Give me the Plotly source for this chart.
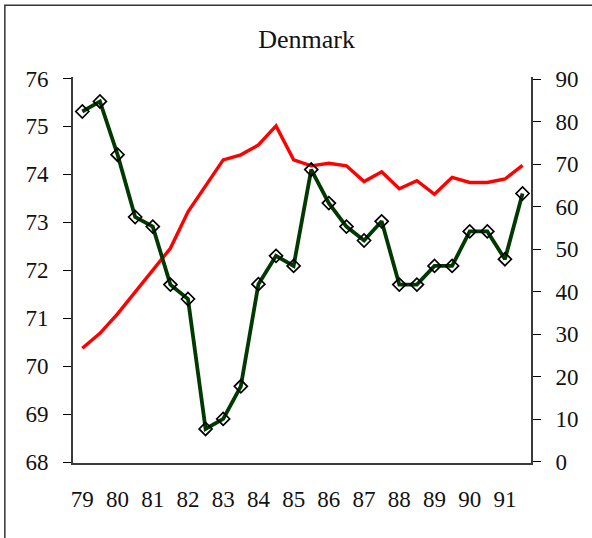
import plotly.graph_objects as go

# ---- data ----
years = [79 + 0.5 * i for i in range(26)]
green_vals = [75.31, 75.52, 74.41, 73.11, 72.91, 71.70, 71.40, 68.69, 68.90, 69.58,
              71.71, 72.30, 72.09, 74.10, 73.40, 72.91, 72.62, 73.02, 71.70, 71.70,
              72.09, 72.09, 72.81, 72.81, 72.23, 73.60]
red_vals = [26.7, 30.2, 34.8, 40.0, 45.0, 50.2, 58.8, 64.9, 71.0, 72.2,
            74.5, 79.0, 71.0, 69.6, 70.2, 69.6, 65.9, 68.2, 64.2, 66.1,
            62.9, 66.9, 65.7, 65.7, 66.5, 69.7]
x_labels = ["79", "80", "81", "82", "83", "84", "85", "86", "87", "88", "89", "90", "91"]
x_label_vals = [79, 80, 81, 82, 83, 84, 85, 86, 87, 88, 89, 90, 91]
x_tick_vals = [78.75, 80.75, 82.75, 84.75, 86.75, 88.75, 90.75]
left_ticks = [68, 69, 70, 71, 72, 73, 74, 75, 76]
right_ticks = [0, 10, 20, 30, 40, 50, 60, 70, 80, 90]

x_range = [78.735, 91.74]
left_range = [67.98, 76.03]
right_range = [-0.3, 90.5]

FONT = "Liberation Serif"
AX = "#3a3a3a"

fig = go.Figure()
fig.add_trace(go.Scatter(x=years, y=red_vals, mode="lines", xaxis="x", yaxis="y",
                         line=dict(color="#ff0000", width=3.4), showlegend=False))
fig.add_trace(go.Scatter(x=years, y=green_vals, mode="lines+markers", xaxis="x", yaxis="y2",
                         line=dict(color="#003a00", width=3.8),
                         marker=dict(symbol="diamond-open", size=10, color="black",
                                     line=dict(width=1.7, color="black")),
                         showlegend=False))

W, H = 592, 538
ml, mr, mt, mb = 72.7, 61, 77.3, 74.7
pw, ph = W - ml - mr, H - mt - mb

tickfont = dict(family=FONT, size=23, color="#111")

fig.update_layout(
    width=W, height=H,
    margin=dict(l=ml, r=mr, t=mt, b=mb, pad=0),
    paper_bgcolor="white", plot_bgcolor="white",
    title=dict(text="Denmark", font=dict(family=FONT, size=26, color="#111"),
               x=302 / W, xanchor="center", y=1 - 39 / H, yanchor="middle",
               xref="paper", yref="container"),
    xaxis=dict(range=x_range, tickmode="array", tickvals=x_label_vals, ticktext=x_labels,
               ticks="", showgrid=False, zeroline=False, showline=True, linecolor=AX,
               linewidth=1.6, tickfont=tickfont, ticklabelstandoff=15, anchor="y"),
    xaxis2=dict(range=x_range, overlaying="x", anchor="y", side="bottom",
                tickmode="array", tickvals=x_tick_vals, ticks="outside", ticklen=8,
                tickwidth=1, tickcolor="black", showticklabels=False, showgrid=False,
                zeroline=False, showline=False),
    xaxis3=dict(range=x_range, overlaying="x", anchor="y", side="bottom",
                tickmode="array", tickvals=x_tick_vals, ticks="inside", ticklen=7,
                tickwidth=1, tickcolor="black", showticklabels=False, showgrid=False,
                zeroline=False, showline=False),
    xaxis4=dict(range=x_range, overlaying="x", anchor="y", side="top",
                ticks="", showticklabels=False, showgrid=False, zeroline=False,
                showline=True, linecolor="#8a8a8a", linewidth=1.5),
    # right axis (red)
    yaxis=dict(range=right_range, side="right", tickmode="array", tickvals=right_ticks,
               ticks="outside", ticklen=8, tickwidth=1, tickcolor="black",
               showgrid=False, zeroline=False, showline=True, linecolor=AX, linewidth=1.6,
               tickfont=tickfont, ticklabelstandoff=10, anchor="x"),
    yaxis4=dict(range=right_range, side="right", overlaying="y", anchor="x",
                tickmode="array", tickvals=right_ticks, ticks="inside", ticklen=7,
                tickwidth=1, tickcolor="black", showticklabels=False, showgrid=False,
                zeroline=False, showline=False),
    # left axis (green)
    yaxis2=dict(range=left_range, side="left", overlaying="y", anchor="x",
                tickmode="array", tickvals=left_ticks, ticks="outside", ticklen=8,
                tickwidth=1, tickcolor="black", showgrid=False, zeroline=False,
                showline=True, linecolor=AX, linewidth=1.6, tickfont=tickfont,
                ticklabelstandoff=10),
    yaxis3=dict(range=left_range, side="left", overlaying="y", anchor="x",
                tickmode="array", tickvals=left_ticks, ticks="inside", ticklen=7,
                tickwidth=1, tickcolor="black", showticklabels=False, showgrid=False,
                zeroline=False, showline=False),
)

# outer frame (extends beyond the visible page on the right/bottom)
fx0 = (4.5 - ml) / pw
fy1 = 1 + (mt - 5.5) / ph
fig.add_shape(type="rect", xref="paper", yref="paper", x0=fx0, x1=1 + (mr + 20) / pw,
              y0=-(mb + 20) / ph, y1=fy1, line=dict(color="#333", width=1.5),
              fillcolor="rgba(0,0,0,0)", layer="above")

fig.write_html("out.html", config={"displayModeBar": False},
               post_script="document.body.style.margin='0px';document.body.style.padding='0px';")
